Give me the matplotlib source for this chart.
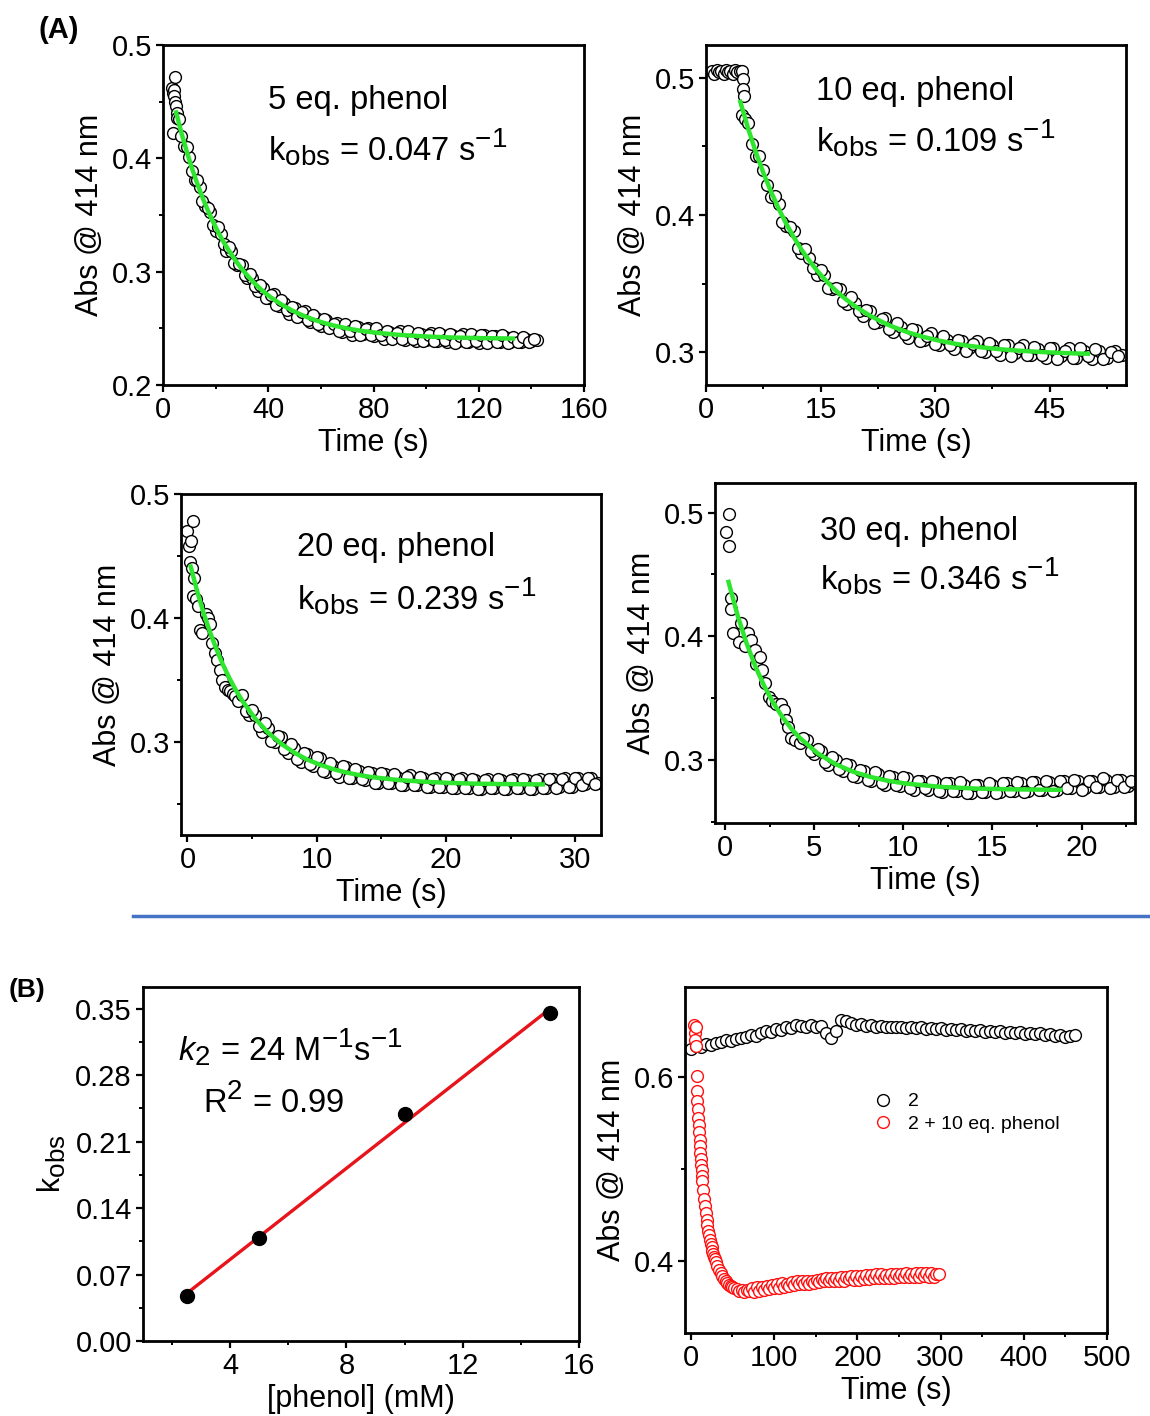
import numpy as np
import matplotlib
matplotlib.use("Agg")
import matplotlib.pyplot as plt
import matplotlib._mathtext as mathtext_impl
from matplotlib.ticker import MultipleLocator, FormatStrFormatter
from matplotlib.lines import Line2D

plt.rcParams['font.family'] = ['Liberation Sans', 'DejaVu Sans']
plt.rcParams['mathtext.fontset'] = 'custom'
plt.rcParams['mathtext.rm'] = 'Liberation Sans'
plt.rcParams['mathtext.it'] = 'Liberation Sans:italic'
plt.rcParams['mathtext.bf'] = 'Liberation Sans:bold'
# Origin-style scripts are only a little smaller than the base text
mathtext_impl.SHRINK_FACTOR = 0.85

# ---- (A) kinetic traces at 414 nm ----
# 5 eq. phenol
p1_early_t = [3.5, 3.8, 4.0, 4.2, 4.5, 4.7, 5.0, 3.8, 5.2, 5.5]
p1_early_y = [0.462, 0.458, 0.460, 0.455, 0.472, 0.450, 0.446, 0.422, 0.440, 0.436]
p1_t = np.arange(6, 143, 2)
p1_y = [0.435, 0.411, 0.401, 0.381, 0.375, 0.358, 0.353, 0.336, 0.333, 0.318,
        0.318, 0.306, 0.306, 0.294, 0.294, 0.283, 0.286, 0.277, 0.280, 0.270,
        0.272, 0.263, 0.268, 0.261, 0.265, 0.256, 0.259, 0.252, 0.257, 0.251,
        0.255, 0.247, 0.251, 0.244, 0.251, 0.245, 0.250, 0.243, 0.247, 0.241,
        0.247, 0.242, 0.248, 0.240, 0.245, 0.239, 0.245, 0.240, 0.246, 0.239,
        0.244, 0.238, 0.244, 0.239, 0.245, 0.238, 0.243, 0.237, 0.244, 0.239,
        0.243, 0.238, 0.242, 0.238, 0.241, 0.238, 0.241, 0.239, 0.240]
p1_mid_t = np.arange(7, 142, 2)
p1_mid_y = [0.420, 0.410, 0.389, 0.381, 0.362, 0.356, 0.341, 0.339, 0.324, 0.322,
            0.308, 0.307, 0.297, 0.298, 0.287, 0.288, 0.277, 0.279, 0.271, 0.275,
            0.266, 0.269, 0.260, 0.264, 0.257, 0.262, 0.254, 0.258, 0.250, 0.254,
            0.248, 0.254, 0.248, 0.252, 0.244, 0.249, 0.244, 0.250, 0.244, 0.248,
            0.241, 0.246, 0.241, 0.248, 0.241, 0.246, 0.239, 0.244, 0.239, 0.246,
            0.240, 0.245, 0.237, 0.243, 0.238, 0.245, 0.239, 0.244, 0.237, 0.243,
            0.238, 0.244, 0.237, 0.242, 0.238, 0.242, 0.238, 0.241]
p1_fit_t = [5, 7, 9, 11, 13, 15, 17, 19, 21, 23, 25, 27, 29, 31, 33, 35, 37, 39, 41,
            43, 45, 49, 53, 57, 61, 65, 70, 75, 80, 90, 100, 110, 120, 133]
p1_fit_y = [0.4405, 0.4225, 0.4063, 0.3913, 0.3779, 0.3655, 0.3543, 0.3441, 0.3347,
            0.3263, 0.3187, 0.3117, 0.3053, 0.2995, 0.2941, 0.2893, 0.2849, 0.2809,
            0.2773, 0.2741, 0.2711, 0.2658, 0.2615, 0.2579, 0.2549, 0.2524, 0.2499,
            0.2479, 0.2464, 0.2442, 0.2428, 0.2419, 0.2414, 0.2410]

# 10 eq. phenol
p2_early_t = [0.8, 1.1, 1.4, 1.7, 2.0, 2.3, 2.6, 2.9, 3.2, 3.5, 3.8, 4.1, 4.4,
              4.7, 4.9, 4.8, 5.0, 4.7, 5.1]
p2_early_y = [0.505, 0.503, 0.506, 0.504, 0.505, 0.503, 0.506, 0.504, 0.505, 0.503,
              0.506, 0.504, 0.505, 0.505, 0.499, 0.492, 0.487, 0.473, 0.470]
p2_t = np.arange(5.5, 55, 1.0)
p2_y = [0.467, 0.443, 0.433, 0.413, 0.408, 0.392, 0.388, 0.372, 0.369, 0.356,
        0.356, 0.346, 0.346, 0.335, 0.336, 0.326, 0.330, 0.322, 0.325, 0.315,
        0.318, 0.310, 0.316, 0.309, 0.314, 0.305, 0.309, 0.302, 0.308, 0.303,
        0.308, 0.300, 0.305, 0.298, 0.305, 0.299, 0.305, 0.298, 0.302, 0.296,
        0.303, 0.297, 0.303, 0.296, 0.301, 0.295, 0.301, 0.296, 0.301, 0.298]
p2_mid_t = np.arange(6, 55, 1.0)
p2_mid_y = [0.452, 0.443, 0.422, 0.414, 0.395, 0.391, 0.376, 0.375, 0.361, 0.360,
            0.347, 0.347, 0.337, 0.340, 0.330, 0.331, 0.321, 0.324, 0.317, 0.321,
            0.313, 0.317, 0.308, 0.312, 0.306, 0.312, 0.305, 0.309, 0.301, 0.306,
            0.301, 0.307, 0.301, 0.305, 0.297, 0.303, 0.298, 0.304, 0.298, 0.303,
            0.295, 0.301, 0.296, 0.303, 0.297, 0.302, 0.295, 0.300, 0.297]
p2_fit_t = [4.5, 5.5, 6.5, 7.5, 8.5, 9.5, 10.5, 11.5, 12.5, 13.5, 14.5, 15.5, 16.5,
            17.5, 18.5, 19.5, 20.5, 21.5, 22.5, 23.5, 24.5, 26.5, 28.5, 30.5, 32.5,
            34.5, 36.5, 38.5, 40.5, 42.5, 44.5, 46.5, 48.5, 50]
p2_fit_y = [0.4825, 0.4634, 0.4462, 0.4309, 0.4172, 0.4048, 0.3937, 0.3837, 0.3748,
            0.3669, 0.3597, 0.3534, 0.3475, 0.3423, 0.3377, 0.3336, 0.3299, 0.3265,
            0.3236, 0.3208, 0.3184, 0.3143, 0.3110, 0.3084, 0.3062, 0.3045, 0.3032,
            0.3021, 0.3012, 0.3005, 0.2999, 0.2994, 0.2990, 0.2988]

# 20 eq. phenol
p3_early_t = [0.0, 0.1, 0.25, 0.45, 0.2, 0.35, 0.5, 0.45, 0.65, 0.85, 0.95, 1.1, 1.4,
              1.6, 1.75, 1.9, 2.1, 2.3, 2.5, 2.7, 2.9, 3.1, 3.3, 3.5, 3.7, 3.9]
p3_early_y = [0.470, 0.458, 0.462, 0.478, 0.445, 0.440, 0.432, 0.418, 0.415, 0.410,
              0.390, 0.388, 0.403, 0.400, 0.395, 0.380, 0.372, 0.366, 0.358, 0.350,
              0.344, 0.342, 0.341, 0.339, 0.337, 0.333]
p3_t = np.arange(4.25, 32.0, 0.5)
p3_y = [0.338, 0.322, 0.322, 0.308, 0.311, 0.300, 0.304, 0.291, 0.295, 0.284,
        0.290, 0.281, 0.287, 0.276, 0.281, 0.272, 0.280, 0.271, 0.277, 0.269,
        0.275, 0.267, 0.274, 0.267, 0.272, 0.265, 0.273, 0.265, 0.271, 0.264,
        0.271, 0.264, 0.270, 0.263, 0.271, 0.263, 0.269, 0.262, 0.270, 0.263,
        0.269, 0.262, 0.270, 0.263, 0.269, 0.262, 0.270, 0.263, 0.270, 0.264,
        0.271, 0.264, 0.271, 0.266, 0.271, 0.267]
p3_mid_t = np.arange(4.5, 31.6, 0.5)
p3_mid_y = [0.325, 0.326, 0.313, 0.315, 0.301, 0.305, 0.294, 0.298, 0.286, 0.291,
            0.282, 0.288, 0.277, 0.283, 0.275, 0.281, 0.271, 0.278, 0.270, 0.276,
            0.267, 0.275, 0.267, 0.274, 0.265, 0.272, 0.265, 0.272, 0.264, 0.270,
            0.264, 0.271, 0.263, 0.270, 0.263, 0.270, 0.262, 0.269, 0.263, 0.270,
            0.262, 0.269, 0.263, 0.270, 0.262, 0.269, 0.263, 0.270, 0.263, 0.270,
            0.264, 0.271, 0.265, 0.271, 0.266]
p3_fit_t = [0.25, 0.75, 1.25, 1.75, 2.25, 2.75, 3.25, 3.75, 4.25, 5.25, 6.25, 7.25,
            8.25, 9.25, 10.25, 11.25, 12.25, 13.25, 14.25, 16.25, 18.25, 20.25,
            22.25, 24.25, 27.5]
p3_fit_y = [0.4415, 0.4216, 0.4040, 0.3885, 0.3746, 0.3623, 0.3514, 0.3417, 0.3331,
            0.3188, 0.3074, 0.2986, 0.2915, 0.2859, 0.2817, 0.2782, 0.2755, 0.2734,
            0.2717, 0.2694, 0.2680, 0.2670, 0.2664, 0.2661, 0.2658]

# 30 eq. phenol
p4_early_t = [0.2, 0.06, 0.25, 0.33, 0.33, 0.45, 0.78, 0.88, 1.1, 1.27, 1.47, 1.66,
              1.76, 1.96, 2.05, 2.25, 2.45, 2.64, 2.84, 3.13, 3.33, 3.42, 3.52, 3.72, 3.9]
p4_early_y = [0.499, 0.484, 0.473, 0.431, 0.422, 0.403, 0.395, 0.411, 0.392, 0.403,
              0.397, 0.389, 0.378, 0.383, 0.373, 0.362, 0.351, 0.348, 0.345, 0.345,
              0.340, 0.332, 0.327, 0.318, 0.316]
p4_t = np.arange(4.2, 23.01, 0.4)
p4_y = [0.314, 0.316, 0.305, 0.307, 0.296, 0.300, 0.291, 0.296, 0.286, 0.291,
        0.283, 0.289, 0.280, 0.286, 0.279, 0.285, 0.276, 0.283, 0.276, 0.282,
        0.274, 0.281, 0.275, 0.280, 0.273, 0.280, 0.274, 0.280, 0.274, 0.281,
        0.275, 0.281, 0.275, 0.282, 0.276, 0.282, 0.276, 0.283, 0.277, 0.283,
        0.277, 0.283, 0.278, 0.284, 0.278, 0.284, 0.279, 0.281]
p4_mid_t = np.arange(4.4, 22.81, 0.4)
p4_mid_y = [0.318, 0.307, 0.309, 0.298, 0.302, 0.293, 0.297, 0.287, 0.292, 0.284,
            0.290, 0.281, 0.287, 0.280, 0.286, 0.277, 0.283, 0.277, 0.283, 0.275,
            0.281, 0.275, 0.282, 0.273, 0.280, 0.274, 0.281, 0.273, 0.281, 0.275,
            0.282, 0.274, 0.282, 0.276, 0.283, 0.275, 0.283, 0.277, 0.284, 0.276,
            0.283, 0.278, 0.285, 0.277, 0.284, 0.278, 0.283]
p4_fit_t = [0.2, 0.7, 1.2, 1.7, 2.2, 2.7, 3.2, 3.7, 4.2, 5.2, 6.2, 7.2, 8.2, 9.2,
            10.2, 12.2, 14.2, 16.2, 18.8]
p4_fit_y = [0.4440, 0.4172, 0.3948, 0.3758, 0.3599, 0.3464, 0.3352, 0.3257, 0.3178,
            0.3053, 0.2966, 0.2904, 0.2861, 0.2830, 0.2808, 0.2781, 0.2768, 0.2762,
            0.2758]

# ---- (B) second-order plot ----
phenol_mM = [2.5, 5, 10, 15]
kobs = [0.047, 0.109, 0.239, 0.346]
line_x = [2.5, 15]
line_y = [0.050, 0.350]

# ---- (B) control traces ----
ctrl_t = np.arange(0, 463, 6)
ctrl_y = [0.631, 0.634, 0.633, 0.636, 0.635, 0.637, 0.638, 0.640, 0.639, 0.642,
          0.643, 0.644, 0.646, 0.645, 0.648, 0.650, 0.649, 0.652, 0.651, 0.654,
          0.653, 0.657, 0.656, 0.655, 0.657, 0.655, 0.656, 0.648, 0.643, 0.650,
          0.662, 0.661, 0.659, 0.657, 0.658, 0.656, 0.657, 0.655, 0.656, 0.654,
          0.655, 0.654, 0.655, 0.653, 0.654, 0.653, 0.654, 0.652, 0.653, 0.652,
          0.653, 0.651, 0.652, 0.651, 0.652, 0.650, 0.651, 0.650, 0.651, 0.649,
          0.650, 0.649, 0.650, 0.648, 0.649, 0.648, 0.649, 0.647, 0.648, 0.647,
          0.648, 0.646, 0.647, 0.645, 0.646, 0.644, 0.645, 0.646]
phen_early_t = [4, 5, 5, 6, 6, 7, 7.5, 8, 8.5, 9, 9.5, 10, 10.5, 11, 11.5, 12, 12.5,
                13, 13.5, 14, 15, 16, 17, 18, 19, 20, 21, 22, 23, 24, 25, 26, 27, 28,
                29, 30, 32, 34, 36, 38, 40, 42, 44, 46, 48, 50, 52, 55, 58, 61, 64, 67, 70]
phen_early_y = [0.657, 0.648, 0.640, 0.634, 0.655, 0.601, 0.585, 0.574, 0.565, 0.556,
                0.548, 0.540, 0.532, 0.525, 0.518, 0.511, 0.505, 0.499, 0.493, 0.487,
                0.477, 0.468, 0.460, 0.452, 0.445, 0.439, 0.433, 0.428, 0.423, 0.419,
                0.415, 0.411, 0.408, 0.405, 0.402, 0.399, 0.395, 0.391, 0.387, 0.384,
                0.381, 0.378, 0.376, 0.374, 0.373, 0.372, 0.371, 0.370, 0.368, 0.369,
                0.367, 0.369, 0.368]
phen_t = np.arange(73, 299, 3)
phen_y = [0.371, 0.367, 0.372, 0.368, 0.372, 0.369, 0.373, 0.370, 0.374, 0.371,
          0.375, 0.371, 0.376, 0.372, 0.375, 0.373, 0.377, 0.374, 0.378, 0.375,
          0.379, 0.375, 0.379, 0.375, 0.379, 0.376, 0.380, 0.377, 0.381, 0.378,
          0.382, 0.378, 0.382, 0.378, 0.382, 0.379, 0.383, 0.379, 0.383, 0.381,
          0.384, 0.380, 0.384, 0.380, 0.384, 0.381, 0.385, 0.381, 0.385, 0.382,
          0.386, 0.382, 0.386, 0.382, 0.385, 0.382, 0.386, 0.382, 0.386, 0.383,
          0.386, 0.383, 0.387, 0.383, 0.386, 0.383, 0.387, 0.383, 0.387, 0.384,
          0.387, 0.383, 0.387, 0.383, 0.386, 0.386]

GREEN = '#2EE62E'
RED = '#FF1010'
TICK_FS = 21
LAB_FS = 22
TXT_FS = 23.5
MS = 8.5
FW, FH = 1150, 1416


def box(l, t, r, b):
    # pixel box -> figure fraction rect
    return [l / FW, 1 - b / FH, (r - l) / FW, (b - t) / FH]


def style(ax, xmin, ymin):
    for s in ax.spines.values():
        s.set_linewidth(2.0)
    ax.tick_params(which='major', direction='out', length=5, width=1.6,
                   labelsize=TICK_FS, pad=3)
    ax.tick_params(which='minor', direction='out', length=3, width=1.4)
    ax.xaxis.set_minor_locator(MultipleLocator(xmin))
    ax.yaxis.set_minor_locator(MultipleLocator(ymin))


def circles(ax, x, y, color='black'):
    ax.plot(x, y, 'o', ms=MS, mfc='white', mec=color, mew=1.0, zorder=2)


def trace_panel(ax, series, ft, fy, xlim, ylim, xmaj, xmin, eq, k, tx, ty1, ty2):
    for x, y in series:
        circles(ax, x, y)
    ax.plot(ft, fy, '-', color=GREEN, lw=3.2, zorder=3)
    ax.set_xlim(*xlim)
    ax.set_ylim(*ylim)
    ax.xaxis.set_major_locator(MultipleLocator(xmaj))
    ax.yaxis.set_major_locator(MultipleLocator(0.1))
    ax.yaxis.set_major_formatter(FormatStrFormatter('%.1f'))
    style(ax, xmin, 0.05)
    ax.set_xlabel('Time (s)', fontsize=LAB_FS, labelpad=3)
    ax.set_ylabel('Abs @ 414 nm', fontsize=LAB_FS, labelpad=5)
    ax.text(tx, ty1, eq, transform=ax.transAxes, fontsize=TXT_FS, va='center')
    ax.text(tx, ty2, r'k$_{\mathrm{obs}}$ = ' + k + r' s$^{\mathrm{-1}}$',
            transform=ax.transAxes, fontsize=TXT_FS, va='center')


fig = plt.figure(figsize=(FW / 100, FH / 100), dpi=100)

ax1 = fig.add_axes(box(163, 45, 584, 385))
trace_panel(ax1, [(p1_early_t, p1_early_y), (p1_t, p1_y), (p1_mid_t, p1_mid_y)],
            p1_fit_t, p1_fit_y, (0, 160), (0.2, 0.5), 40, 20,
            '5 eq. phenol', '0.047', 0.25, 0.838, 0.70)

ax2 = fig.add_axes(box(706, 45, 1126, 385))
trace_panel(ax2, [(p2_early_t, p2_early_y), (p2_t, p2_y), (p2_mid_t, p2_mid_y)],
            p2_fit_t, p2_fit_y, (0, 55), (0.276, 0.524), 15, 7.5,
            '10 eq. phenol', '0.109', 0.262, 0.862, 0.725)

ax3 = fig.add_axes(box(181, 494, 601, 835))
trace_panel(ax3, [(p3_early_t, p3_early_y), (p3_t, p3_y), (p3_mid_t, p3_mid_y)],
            p3_fit_t, p3_fit_y, (-0.5, 32), (0.225, 0.5), 10, 5,
            '20 eq. phenol', '0.239', 0.276, 0.842, 0.70)

ax4 = fig.add_axes(box(715, 483, 1135, 823))
trace_panel(ax4, [(p4_early_t, p4_early_y), (p4_t, p4_y), (p4_mid_t, p4_mid_y)],
            p4_fit_t, p4_fit_y, (-0.56, 23), (0.249, 0.524), 5, 2.5,
            '30 eq. phenol', '0.346', 0.25, 0.856, 0.725)

# panel (B) left: kobs vs [phenol]
ax5 = fig.add_axes(box(143, 987, 579, 1341))
ax5.plot(line_x, line_y, '-', color='#E8141B', lw=2.4, zorder=2)
ax5.plot(phenol_mM, kobs, 'o', ms=10, color='black', zorder=3)
ax5.set_xlim(1, 16)
ax5.set_ylim(0, 0.373)
ax5.set_xticks([4, 8, 12, 16])
ax5.set_yticks(np.arange(0, 0.36, 0.07))
ax5.yaxis.set_major_formatter(FormatStrFormatter('%.2f'))
style(ax5, 2, 0.035)
ax5.set_xlabel('[phenol] (mM)', fontsize=LAB_FS, labelpad=3)
ax5.set_ylabel(r'k$_{\mathrm{obs}}$', fontsize=LAB_FS, labelpad=5)
ax5.text(0.08, 0.83, r'$k$$_{\mathrm{2}}$ = 24 M$^{\mathrm{-1}}$s$^{\mathrm{-1}}$',
         transform=ax5.transAxes, fontsize=TXT_FS, va='center')
ax5.text(0.138, 0.675, r'R$^{\mathrm{2}}$ = 0.99', transform=ax5.transAxes,
         fontsize=TXT_FS, va='center')

# panel (B) right: control
ax6 = fig.add_axes(box(685, 987, 1107, 1333))
circles(ax6, ctrl_t, ctrl_y)
circles(ax6, phen_early_t, phen_early_y, RED)
circles(ax6, phen_t, phen_y, RED)
ax6.set_xlim(-7, 500)
ax6.set_ylim(0.322, 0.698)
ax6.xaxis.set_major_locator(MultipleLocator(100))
ax6.set_yticks([0.4, 0.6])
ax6.yaxis.set_major_formatter(FormatStrFormatter('%.1f'))
style(ax6, 50, 0.1)
ax6.set_xlabel('Time (s)', fontsize=LAB_FS, labelpad=3)
ax6.set_ylabel('Abs @ 414 nm', fontsize=LAB_FS, labelpad=5)
handles = [Line2D([], [], ls='none', marker='o', ms=MS, mfc='white', mec='black', mew=1.0),
           Line2D([], [], ls='none', marker='o', ms=MS, mfc='white', mec=RED, mew=1.0)]
ax6.legend(handles, ['2', '2 + 10 eq. phenol'], loc='upper left',
           bbox_to_anchor=(0.405, 0.745), frameon=False, fontsize=14,
           handlelength=1.0, handletextpad=0.8, labelspacing=0.25)

# separator and panel letters
fig.add_artist(Line2D([133 / FW, 1.0], [1 - 916 / FH, 1 - 916 / FH],
                      color='#4472C4', lw=2.5))
fig.text(59 / FW, 1 - 30 / FH, '(A)', fontsize=21, fontweight='bold',
         ha='center', va='center')
fig.text(27 / FW, 1 - 990 / FH, '(B)', fontsize=19, fontweight='bold',
         ha='center', va='center')

fig.savefig('out.png', dpi=100)
